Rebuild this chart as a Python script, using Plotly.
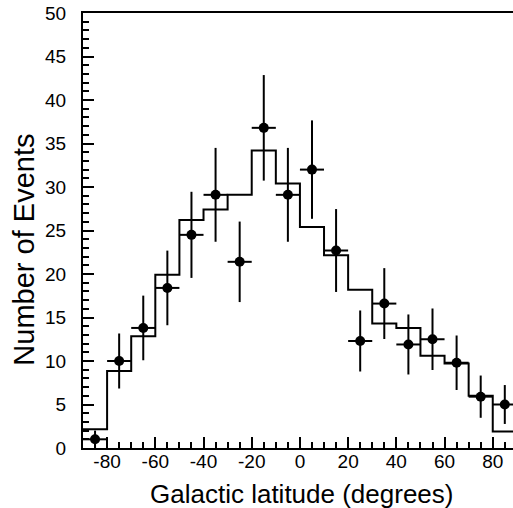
import plotly.graph_objects as go

# ---- data ----
bin_centers = [-85, -75, -65, -55, -45, -35, -25, -15, -5, 5, 15, 25, 35, 45, 55, 65, 75, 85]
bin_half_width = 5
data_counts = [1.0, 10.0, 13.8, 18.4, 24.5, 29.1, 21.4, 36.8, 29.1, 32.0, 22.7, 12.3, 16.6, 11.9, 12.5, 9.8, 5.9, 5.0]
model_counts = [2.15, 8.85, 12.85, 19.9, 26.2, 27.4, 29.1, 34.2, 30.4, 25.4, 22.15, 18.2, 14.3, 13.8, 10.6, 9.7, 6.0, 1.9]
x_ticks = [-80, -60, -40, -20, 0, 20, 40, 60, 80]
y_ticks = [0, 5, 10, 15, 20, 25, 30, 35, 40, 45, 50]

data_err = [c ** 0.5 for c in data_counts]

# step histogram from bin edges
step_x = [c - bin_half_width for c in bin_centers] + [bin_centers[-1] + bin_half_width]
step_y = model_counts + [model_counts[-1]]

fig = go.Figure()
fig.add_trace(go.Scatter(
    x=step_x, y=step_y, mode="lines", line=dict(shape="hv", color="black", width=2),
    showlegend=False, hoverinfo="skip"))
fig.add_trace(go.Scatter(
    x=bin_centers, y=data_counts, mode="markers",
    marker=dict(color="black", size=10),
    error_y=dict(type="data", array=data_err, visible=True, color="black", thickness=2, width=0),
    error_x=dict(type="constant", value=bin_half_width, visible=True, color="black", thickness=2, width=0),
    showlegend=False))

W, H = 513, 508
L, R, T, B = 82.7, 0, 12.7, 60.3
pw = W - L - R
ph = H - T - B

font_family = "Liberation Sans, Arial, Helvetica, sans-serif"

fig.update_layout(
    width=W, height=H,
    margin=dict(l=L, r=R, t=T, b=B, pad=0, autoexpand=False),
    plot_bgcolor="white", paper_bgcolor="white",
    font=dict(family=font_family, color="black"),
    xaxis=dict(
        range=[-90, 88.4], showgrid=False, zeroline=False,
        showline=True, linecolor="black", linewidth=2, mirror=True,
        ticks="inside", ticklen=11, tickwidth=1.5, tickcolor="black",
        tickvals=x_ticks, ticktext=[str(v) for v in x_ticks],
        tickfont=dict(size=19, family=font_family, color="black"),
        ticklabelstandoff=-5,
        minor=dict(dtick=5, tick0=0, ticks="inside", ticklen=6, tickwidth=1.5, tickcolor="black"),
        automargin=False,
    ),
    yaxis=dict(
        range=[0, 50], showgrid=False, zeroline=False,
        showline=True, linecolor="black", linewidth=2, mirror=False,
        ticks="inside", ticklen=11, tickwidth=1.5, tickcolor="black",
        tickvals=y_ticks, ticktext=[str(v) for v in y_ticks],
        tickfont=dict(size=19, family=font_family, color="black"),
        ticklabelstandoff=11,
        minor=dict(dtick=1, tick0=0, ticks="inside", ticklen=6, tickwidth=1.5, tickcolor="black"),
        automargin=False,
    ),
    annotations=[
        dict(text="Galactic latitude (degrees)", xref="paper", yref="paper",
             x=(301.5 - L) / pw, y=(H - B - 494) / ph, xanchor="center", yanchor="middle",
             showarrow=False, font=dict(size=26, family=font_family, color="black")),
        dict(text="Number of Events", xref="paper", yref="paper",
             x=(24 - L) / pw, y=(H - B - 249) / ph, xanchor="center", yanchor="middle",
             textangle=-90, showarrow=False, font=dict(size=29, family=font_family, color="black")),
    ],
)

fig.write_html("out.html", config={"displayModeBar": False},
               post_script="document.body.style.margin='0px';")
